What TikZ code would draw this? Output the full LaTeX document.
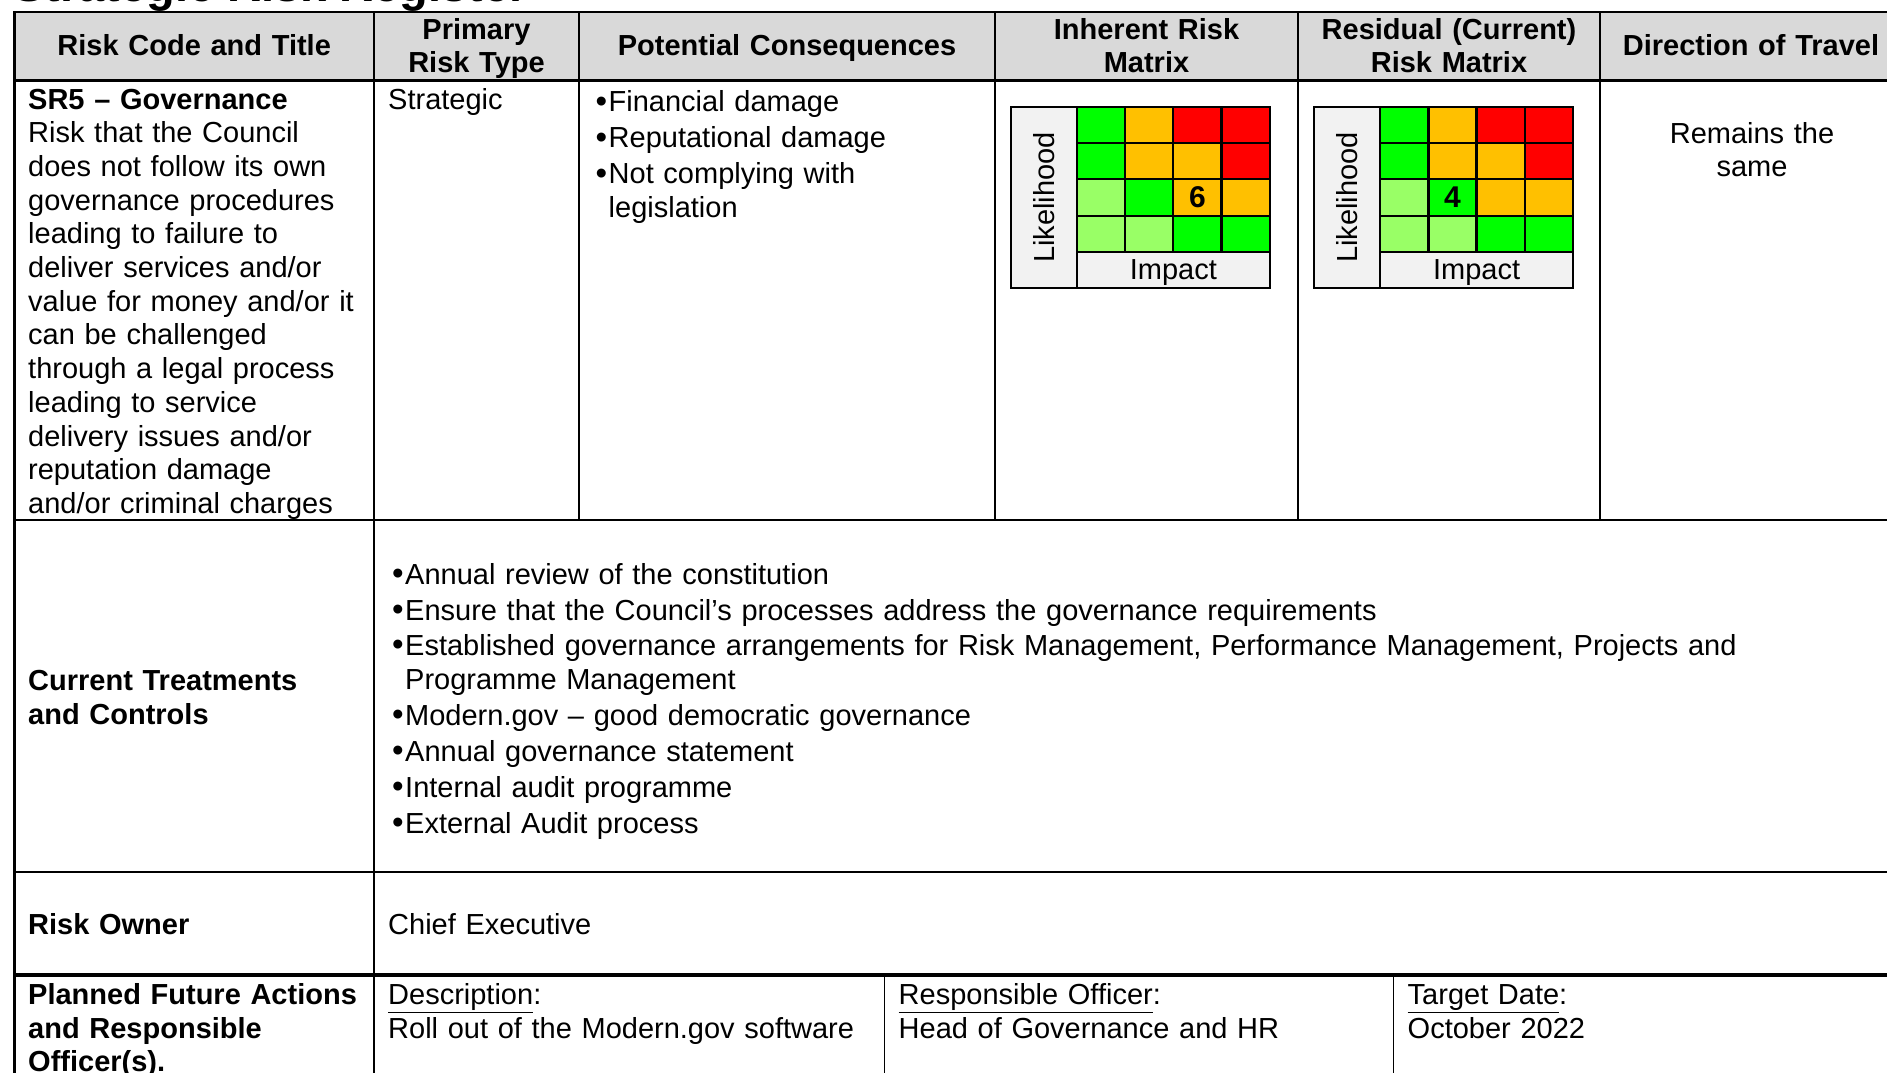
\documentclass[tikz,border=0pt]{standalone}
\usepackage{fontspec}
\setmainfont{Liberation Sans}
\definecolor{hdr}{HTML}{D9D9D9}
\definecolor{lbl}{HTML}{F2F2F2}
\definecolor{rg}{HTML}{00FF00}
\definecolor{ro}{HTML}{FFC000}
\definecolor{rr}{HTML}{FF0000}
\definecolor{rlg}{HTML}{99FF66}
\newcommand\bul{\leavevmode\llap{\raisebox{-0.5pt}{\fontsize{33}{33.7}\selectfont•}\hspace{1.5pt}}}
\newcommand\riskgrid[2]{%
  \begin{scope}[shift={(#1,0)}]
    \fill[lbl] (0,106.7) rectangle (258.7,288.3);
    \foreach \c [count=\i from 0] in {rg,ro,rr,rr,rg,ro,ro,rr,rlg,rg,ro,ro,rlg,rlg,rg,rg}{
      \pgfmathtruncatemacro\mcol{mod(\i,4)}
      \pgfmathtruncatemacro\mrow{int(\i/4)}
      \fill[\c] ({66.2+\mcol*48.125},{106.7+\mrow*36.32}) rectangle ++(48.125,36.32);
    }
    \foreach \k in {1,2,3,4} \draw[mline] (66.2,{106.7+\k*36.32}) -- (258.7,{106.7+\k*36.32});
    \foreach \k in {1,2,3} \draw[mline] ({66.2+\k*48.125},106.7) -- ({66.2+\k*48.125},252);
    \draw[mline] (66.2,106.7) -- (66.2,288.3);
    \draw[mline] (0,106.7) rectangle (258.7,288.3);
    \node[ctr, rotate=90] (#2lik) at (33.1,197.5) {Likelihood};
    \node[ctr] (#2imp) at (162.5,273) {Impact};
  \end{scope}}
\begin{document}
\begin{tikzpicture}[x=1pt,y=-1pt,
  tl/.style={line width=2.5pt, line cap=rect},
  thinl/.style={line width=1.5pt},
  thickl/.style={line width=3.5pt, line cap=rect},
  mline/.style={line width=2.2pt},
  fnt/.style={font=\fontsize{29}{33.7}\selectfont},
  txt/.style={fnt, inner sep=0pt, anchor=base west, text width=#1, align=left},
  txt/.default=600pt,
  btxt/.style={txt=#1, font=\fontsize{29}{33.7}\selectfont\bfseries},
  btxt/.default=600pt,
  hd/.style={inner sep=0pt, anchor=base, font=\fontsize{29}{33.7}\selectfont\bfseries, text width=500pt, align=center},
  ctr/.style={fnt, inner sep=0pt},
  num/.style={inner sep=0pt, font=\fontsize{30}{33.7}\selectfont\bfseries}
]
\useasboundingbox (0,0) rectangle (1887,1073);
\clip (0,0) rectangle (1887,1073);

% cut-off title
\node[anchor=base west, inner sep=0pt, font=\fontsize{47}{50}\selectfont\bfseries] (title) at (13,2) {Strategic Risk Register};

% table
\fill[hdr] (14.4,12) rectangle (1902,80.6);
\draw[tl] (14.4,12) -- (1902,12);
\draw[tl] (14.4,80.6) -- (1902,80.6);
\draw[tl] (14.4,520) -- (1902,520);
\draw[tl] (14.4,872) -- (1902,872);
\draw[thickl] (14.4,975) -- (1902,975);
\draw[tl] (14.4,12) -- (14.4,1090);
\draw[tl] (374,12) -- (374,1090);
\foreach \x in {579,995,1298,1600} \draw[tl] (\x,12) -- (\x,520);
\foreach \x in {884.5,1393.5} \draw[thinl] (\x,975) -- (\x,1090);

% header
\node[hd] (h1) at (194.2,56) {Risk Code and Title};
\node[hd] (h2) at (476.5,39.3) {Primary\\Risk Type};
\node[hd] (h3) at (787,56) {Potential Consequences};
\node[hd] (h4) at (1146.5,39.3) {Inherent Risk\\Matrix};
\node[hd] (h5) at (1449,39.3) {Residual (Current)\\Risk Matrix};
\node[hd] (h6) at (1751,56) {Direction of Travel};

% row 1
\node[txt] (title1) at (28,109) {\textbf{SR5 – Governance}\\Risk that the Council\\does not follow its own\\governance procedures\\leading to failure to\\deliver services and/or\\value for money and/or it\\can be challenged\\through a legal process\\leading to service\\delivery issues and/or\\reputation damage\\and/or criminal charges};
\node[txt] (type1) at (388,109) {Strategic};
\node[txt] (cons1) at (608.5,111.5) {\bul Financial damage\\[2.3pt]\bul Reputational damage\\[2.3pt]\bul Not complying with\\legislation};
\riskgrid{1010.9}{ma}
\riskgrid{1314.1}{mb}
\node[num] (na) at (1197.4,197.5) {6};
\node[num] (nb) at (1452.5,197.5) {4};
\node[fnt, inner sep=0pt, anchor=base, text width=320pt, align=center] (dir1) at (1752,143) {Remains the\\same};

% row 2
\node[btxt] (treatlbl) at (28,690.4) {Current Treatments\\and Controls};
\node[txt=1500pt] (treat) at (405,584.4) {\bul Annual review of the constitution\\[2.3pt]\bul Ensure that the Council’s processes address the governance requirements\\[1.2pt]\bul Established governance arrangements for Risk Management, Performance Management, Projects and\\Programme Management\\[2.3pt]\bul Modern.gov – good democratic governance\\[2.3pt]\bul Annual governance statement\\[2.3pt]\bul Internal audit programme\\[2.3pt]\bul External Audit process};

% row 3
\node[btxt] (ownerlbl) at (28,934.6) {Risk Owner};
\node[txt] (owner) at (388,934.6) {Chief Executive};

% row 4
\node[btxt] (planlbl) at (28,1004.4) {Planned Future Actions\\and Responsible\\Officer(s).};
\node[txt] (desc) at (388,1004.4) {\underline{Description}:\\Roll out of the Modern.gov software};
\node[txt] (resp) at (898.5,1004.4) {\underline{Responsible Officer}:\\Head of Governance and HR};
\node[txt] (tdate) at (1407.5,1004.4) {\underline{Target Date}:\\October 2022};
\end{tikzpicture}
\end{document}
